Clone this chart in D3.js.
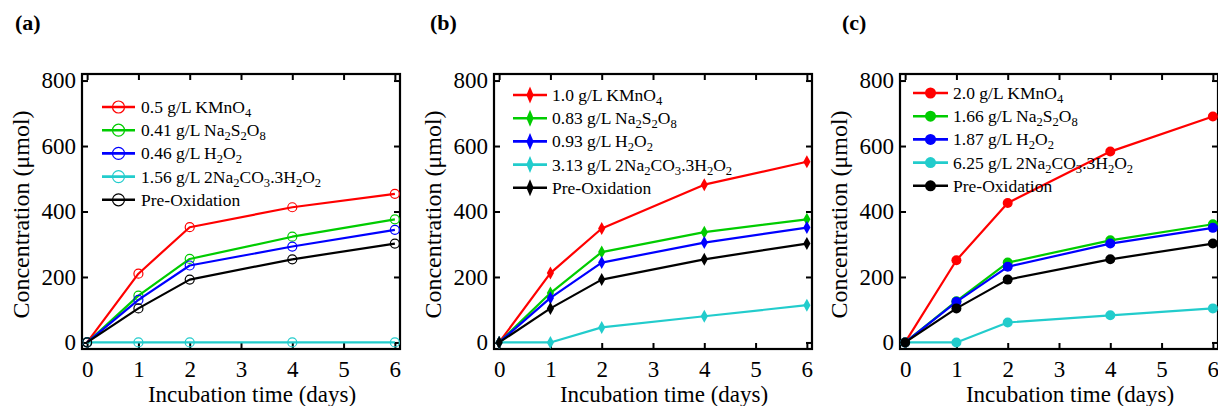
<!DOCTYPE html>
<html>
<head>
<meta charset="utf-8">
<script src="https://cdn.jsdelivr.net/npm/d3@7"></script>
<style>
  html, body { margin: 0; padding: 0; background: #fff; }
  svg { display: block; font-family: "Liberation Serif", "Times New Roman", serif; }
</style>
</head>
<body>
<svg id="chart" width="1218" height="406"></svg>
<script>
// Incubation days sampled
const days = [0, 1, 2, 4, 6];

// Axis ticks
const yTicks = [0, 200, 400, 600, 800];
const xTicks = [0, 1, 2, 3, 4, 5, 6];

// Panel titles
const panelLabels = ["(a)", "(b)", "(c)"];

// Legend entries per panel
const namesA = ["0.5 g/L KMnO4", "0.41 g/L Na2S2O8", "0.46 g/L H2O2", "1.56 g/L 2Na2CO3.3H2O2", "Pre-Oxidation"];
const namesB = ["1.0 g/L KMnO4", "0.83 g/L Na2S2O8", "0.93 g/L H2O2", "3.13 g/L 2Na2CO3.3H2O2", "Pre-Oxidation"];
const namesC = ["2.0 g/L KMnO4", "1.66 g/L Na2S2O8", "1.87 g/L H2O2", "6.25 g/L 2Na2CO3.3H2O2", "Pre-Oxidation"];

// Concentration (µmol) per oxidant dose
const kmno4A        = [0, 210, 352, 413, 454];
const persulfateA   = [0, 143, 255, 323, 376];
const peroxideA     = [0, 130, 235, 293, 344];
const percarbonateA = [0, 0, 0, 0, 0];

const kmno4B        = [0, 212, 348, 482, 552];
const persulfateB   = [0, 151, 276, 337, 376];
const peroxideB     = [0, 136, 244, 305, 351];
const percarbonateB = [0, 0, 46, 80, 114];

const kmno4C        = [0, 251, 426, 583, 690];
const persulfateC   = [0, 126, 244, 312, 361];
const peroxideC     = [0, 124, 231, 302, 350];
const percarbonateC = [0, 0, 61, 83, 104];

const preOxidation  = [0, 104, 192, 254, 302];

const colors = ["#ff0000", "#00cc00", "#0000ff", "#22cccc", "#000000"];

// Layout of the three panels
const panels = [
  { label: panelLabels[0], names: namesA, series: [kmno4A, persulfateA, peroxideA, percarbonateA, preOxidation],
    left: 82, marker: "openCircle", labelX: 15, legend: { x1: 20, x2: 53, tx: 59, top: 33 } },
  { label: panelLabels[1], names: namesB, series: [kmno4B, persulfateB, peroxideB, percarbonateB, preOxidation],
    left: 494, marker: "diamond", labelX: 430, legend: { x1: 19, x2: 53, tx: 58, top: 21 } },
  { label: panelLabels[2], names: namesC, series: [kmno4C, persulfateC, peroxideC, percarbonateC, preOxidation],
    left: 900, marker: "dot", labelX: 842, legend: { x1: 13, x2: 48, tx: 53, top: 19 } }
];

const plotW = 318, plotH = 275, plotTop = 74;
const svg = d3.select("#chart");

// Writes chemical formulas with digits that follow a letter as subscripts
function formulaText(sel, str) {
  const subShift = 4;
  let offset = 0;
  const tokens = str.match(/[A-Za-z][0-9]+|[A-Za-z]|[^A-Za-z]+/g);
  tokens.forEach(tok => {
    const m = tok.match(/^([A-Za-z])([0-9]+)$/);
    if (m) {
      sel.append("tspan").attr("dy", -offset).text(m[1]);
      sel.append("tspan").attr("dy", subShift).attr("font-size", "0.72em").text(m[2]);
      offset = subShift;
    } else {
      sel.append("tspan").attr("dy", -offset).text(tok);
      offset = 0;
    }
  });
}

function drawMarker(g, type, cx, cy, color, big) {
  if (type === "openCircle") {
    g.append("circle").attr("cx", cx).attr("cy", cy).attr("r", big ? 6 : 4.5)
      .attr("fill", "none").attr("stroke", color).attr("stroke-width", 1.2);
  } else if (type === "dot") {
    g.append("circle").attr("cx", cx).attr("cy", cy).attr("r", big ? 5.5 : 5)
      .attr("fill", color);
  } else {
    const hw = 3.6, hh = big ? 8.5 : 6.5;
    g.append("path")
      .attr("d", `M${cx},${cy - hh}L${cx + hw},${cy}L${cx},${cy + hh}L${cx - hw},${cy}Z`)
      .attr("fill", color);
  }
}

panels.forEach(p => {
  const x = d3.scaleLinear().domain([-0.1, 6.1]).range([0, plotW]);
  const y = d3.scaleLinear().domain([-20, 820]).range([plotH, 0]);
  const g = svg.append("g").attr("transform", `translate(${p.left},${plotTop})`);

  // Panel label
  svg.append("text").attr("x", p.labelX).attr("y", 30)
    .attr("font-size", 22).attr("font-weight", "bold").text(p.label);

  // Axes with inward ticks
  const axL = g.append("g").call(d3.axisLeft(y).tickValues(yTicks).tickSize(-6).tickPadding(6));
  const axR = g.append("g").attr("transform", `translate(${plotW},0)`)
    .call(d3.axisRight(y).tickValues(yTicks).tickSize(-6).tickFormat(""));
  const axB = g.append("g").attr("transform", `translate(0,${plotH})`)
    .call(d3.axisBottom(x).tickValues(xTicks).tickSize(-6).tickPadding(12).tickFormat(d3.format("d")));
  const axT = g.append("g")
    .call(d3.axisTop(x).tickValues(xTicks).tickSize(-6).tickFormat(""));
  [axL, axR, axB, axT].forEach(a => {
    a.attr("font-family", null);
    a.select(".domain").remove();
    a.selectAll(".tick line").attr("stroke", "#000").attr("stroke-width", 2);
    a.selectAll("text").attr("font-size", 23).attr("fill", "#000");
  });

  // Frame
  g.append("rect").attr("width", plotW).attr("height", plotH)
    .attr("fill", "none").attr("stroke", "#000").attr("stroke-width", 2.2);

  // Axis titles
  g.append("text").attr("x", plotW / 2 + 11).attr("y", plotH + 53)
    .attr("text-anchor", "middle").attr("font-size", 23).text("Incubation time (days)");
  g.append("text").attr("transform", `translate(-53,${plotH / 2 + 3}) rotate(-90)`)
    .attr("text-anchor", "middle").attr("font-size", 24).text("Concentration (μmol)");

  // Series lines and markers
  const line = d3.line().x((d, i) => x(days[i])).y(d => y(d));
  p.series.forEach((vals, si) => {
    g.append("path").datum(vals).attr("d", line)
      .attr("fill", "none").attr("stroke", colors[si]).attr("stroke-width", 2.2)
      .attr("stroke-linejoin", "round");
    vals.forEach((v, i) => drawMarker(g, p.marker, x(days[i]), y(v), colors[si], false));
  });

  // Legend
  const L = p.legend;
  p.names.forEach((name, i) => {
    const ry = L.top + i * 23.2;
    g.append("line").attr("x1", L.x1).attr("x2", L.x2).attr("y1", ry).attr("y2", ry)
      .attr("stroke", colors[i]).attr("stroke-width", 2.6);
    drawMarker(g, p.marker, (L.x1 + L.x2) / 2, ry, colors[i], true);
    const t = g.append("text").attr("x", L.tx).attr("y", ry + 6).attr("font-size", 17.5);
    formulaText(t, name);
  });
});
</script>
</body>
</html>
